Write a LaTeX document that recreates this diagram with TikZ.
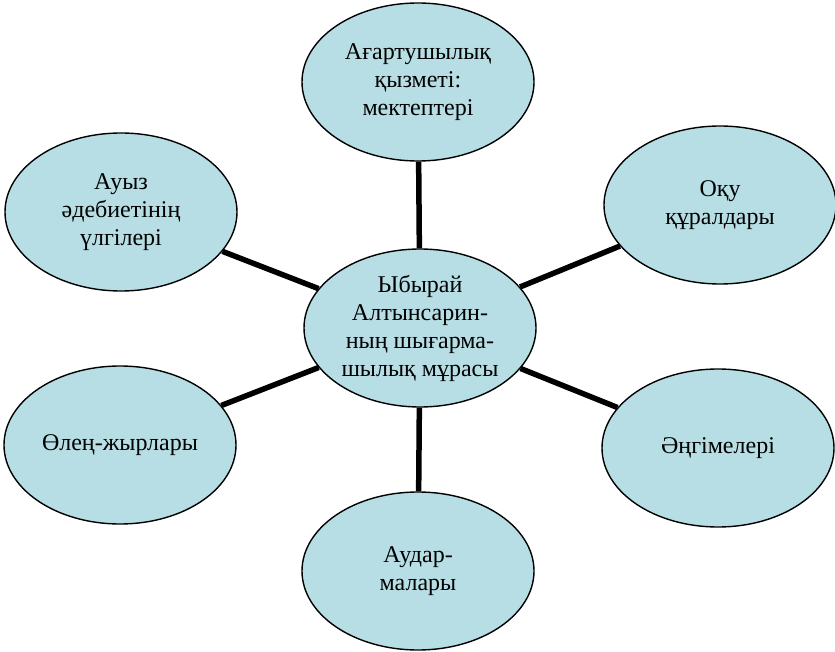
\documentclass[tikz,border=0pt]{standalone}
\usepackage{fontspec}
\setmainfont{Liberation Serif}
\usetikzlibrary{shapes.geometric}
\definecolor{bubblefill}{RGB}{183,222,228}
\tikzset{
	bubble/.style={ellipse, draw=black, line width=1.4pt, fill=bubblefill,
		minimum width=232pt, minimum height=158pt, inner sep=0pt,
		align=center, font=\fontsize{24}{28}\selectfont},
	spoke/.style={line width=5.5pt}
}

\begin{document}
\begin{tikzpicture}[x=1pt, y=-1pt]
	\useasboundingbox (0, 0) rectangle (835, 652);
	% Nodes:
	\node[bubble] (mura) at (420, 328){Ыбырай\\Алтынсарин-\\ның шығарма-\\шылық мұрасы};
	\node[bubble] (agartu) at (418, 82){Ағартушылық\\қызметі:\\мектептері};
	\node[bubble] (auyz) at (121, 212){Ауыз\\әдебиетінің\\үлгілері};
	\node[bubble] (oku) at (720, 205){Оқу\\құралдары};
	\node[bubble] (olen) at (120, 445){Өлең-жырлары};
	\node[bubble] (angime) at (718, 448){Әңгімелері};
	\node[bubble] (audarma) at (418, 571){Аудар-\\малары};
	% Connectors:
	\draw[spoke] (mura) -- (agartu);
	\draw[spoke] (mura) -- (auyz);
	\draw[spoke] (mura) -- (oku);
	\draw[spoke] (mura) -- (olen);
	\draw[spoke] (mura) -- (angime);
	\draw[spoke] (mura) -- (audarma);
\end{tikzpicture}
\end{document}
